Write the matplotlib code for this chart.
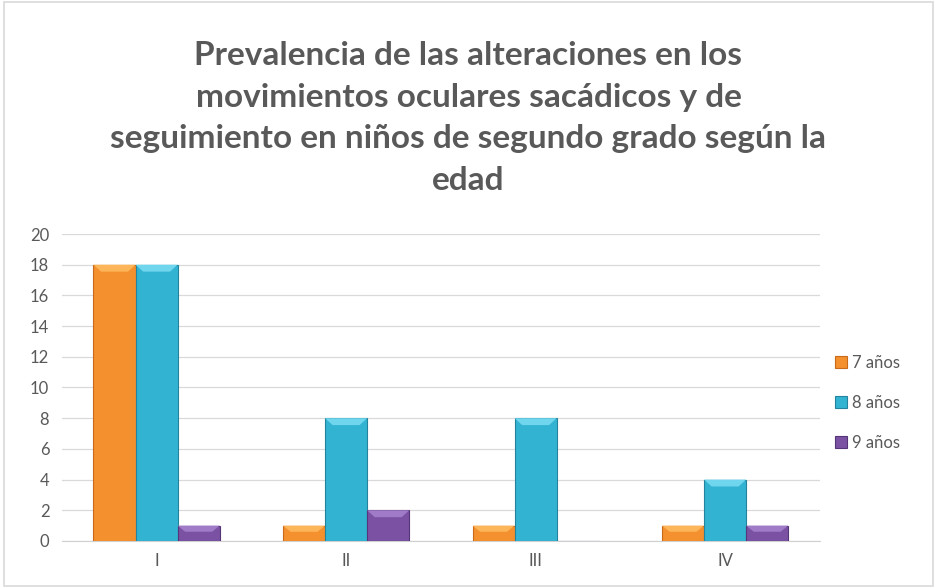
import numpy as np
import matplotlib.pyplot as plt
from matplotlib.patches import Polygon, Rectangle

categories = ["I", "II", "III", "IV"]
series_names = ["7 años", "8 años", "9 años"]
v7 = [18, 1, 1, 1]
v8 = [18, 8, 8, 4]
v9 = [1, 2, 0, 1]
title = ("Prevalencia de las alteraciones en los\nmovimientos oculares sacádicos y de\n"
         "seguimiento en niños de segundo grado según la\nedad")

colors = ["#F4912E", "#33B3D2", "#7B52A3"]
edges = ["#C96A1A", "#24839C", "#553578"]
lights = ["#FDB55A", "#6FD6EE", "#A07BC8"]

plt.rcParams['font.family'] = ['Lato', 'DejaVu Sans']
fig = plt.figure(figsize=(9.37, 5.88), dpi=100)
fig.patches.append(Rectangle((0.004, 0.004), 0.992, 0.992, transform=fig.transFigure,
                             fill=False, edgecolor="#D9D9D9", lw=1.2))
ax = fig.add_axes([0.066, 0.080, 0.809, 0.522])

x = np.arange(len(categories))
w = 0.222
for i, vals in enumerate([v7, v8, v9]):
    pos = x + (i - 1) * w
    ax.bar(pos, vals, w, color=colors[i], edgecolor=edges[i], lw=0.8,
           label=series_names[i], zorder=3)
    # bevel highlight on top of each bar
    for p, v in zip(pos, vals):
        if v <= 0:
            continue
        b = min(0.45, v * 0.4)
        ax.add_patch(Polygon([[p - w / 2, v], [p + w / 2, v], [p + w / 2 - 0.04, v - b],
                              [p - w / 2 + 0.04, v - b]], closed=True,
                             facecolor=lights[i], edgecolor="none", zorder=4))

ax.set_xlim(-0.5, 3.5)
ax.set_ylim(0, 20)
ax.set_yticks(range(0, 21, 2))
ax.set_xticks(x)
ax.set_xticklabels(categories)
ax.grid(axis='y', color="#D9D9D9", lw=0.9, zorder=0)
for s in ["top", "right", "left"]:
    ax.spines[s].set_visible(False)
ax.spines["bottom"].set_color("#D0D0D0")
ax.tick_params(axis='both', length=0, colors="#595959", labelsize=12, pad=9)

fig.text(0.5, 0.93, title, ha='center', va='top', fontsize=24, fontweight='bold',
         color="#595959", linespacing=1.52)

leg = ax.legend(loc='center left', bbox_to_anchor=(1.0, 0.45), frameon=False,
                fontsize=12, handlelength=0.7, handleheight=0.7, handletextpad=0.3,
                labelspacing=1.45, labelcolor="#595959")

fig.savefig("out.png", dpi=100)
